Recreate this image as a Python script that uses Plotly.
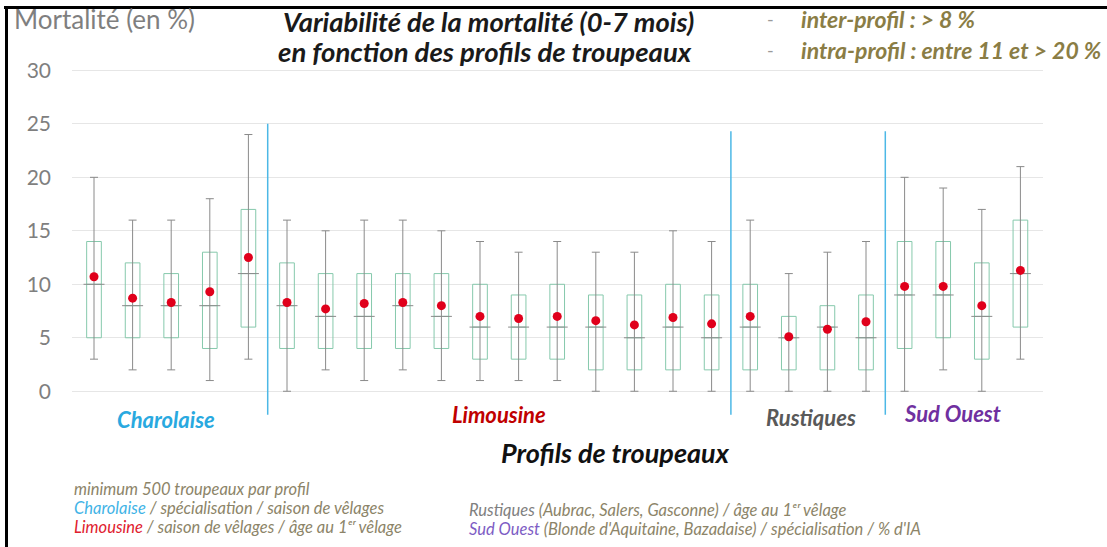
import plotly.graph_objects as go

# ---- data (values in %) ----
profiles = list(range(25))
groups = ["Charolaise"] * 5 + ["Limousine"] * 12 + ["Rustiques"] * 4 + ["Sud Ouest"] * 4
whisker_low = [3, 2, 2, 1, 3,
               0, 2, 1, 2, 1, 1, 1, 1, 0, 0, 0, 0,
               0, 0, 0, 0,
               0, 2, 0, 3]
q1 = [5, 5, 5, 4, 6,
      4, 4, 4, 4, 4, 3, 3, 3, 2, 2, 2, 2,
      2, 2, 2, 2,
      4, 5, 3, 6]
median = [10, 8, 8, 8, 11,
          8, 7, 7, 8, 7, 6, 6, 6, 6, 5, 6, 5,
          6, 5, 6, 5,
          9, 9, 7, 11]
q3 = [14, 12, 11, 13, 17,
      12, 11, 11, 11, 11, 10, 9, 10, 9, 9, 10, 9,
      10, 7, 8, 9,
      14, 14, 12, 16]
whisker_high = [20, 16, 16, 18, 24,
                16, 15, 16, 16, 15, 14, 13, 14, 13, 13, 15, 14,
                16, 11, 13, 14,
                20, 19, 17, 21]
mean = [10.7, 8.7, 8.3, 9.3, 12.5,
        8.3, 7.7, 8.2, 8.3, 8.0, 7.0, 6.8, 7.0, 6.6, 6.2, 6.9, 6.3,
        7.0, 5.1, 5.8, 6.5,
        9.8, 9.8, 8.0, 11.3]
y_ticks = [0, 5, 10, 15, 20, 25, 30]
separators = [4.5, 16.5, 20.5]
separator_tops = [25, 24.3, 24.3]

# ---- layout geometry ----
W, H = 1107, 547
L, R, T, B = 72, 64, 65, 129
PW, PH = W - L - R, H - T - B


def P(x, y):
    return (x - L) / PW, (H - B - y) / PH


FONT = "Lato"
OLIVE = "#8c8468"

fig = go.Figure()

fig.add_trace(go.Box(
    x=profiles, q1=q1, median=median, q3=q3,
    lowerfence=q1, upperfence=q3,
    width=0.38, whiskerwidth=0,
    line=dict(color="#86c9ac", width=1),
    fillcolor="rgba(0,0,0,0)",
    boxpoints=False, hoverinfo="skip", showlegend=False,
))

fig.add_trace(go.Scatter(
    x=profiles, y=median, mode="markers",
    marker=dict(size=0.1, color="rgba(0,0,0,0)"),
    error_y=dict(type="data", symmetric=False,
                 array=[h - m for h, m in zip(whisker_high, median)],
                 arrayminus=[m - l for m, l in zip(median, whisker_low)],
                 color="#8a8a8a", thickness=1, width=4),
    hoverinfo="skip", showlegend=False, cliponaxis=False,
))

fig.add_trace(go.Scatter(
    x=profiles, y=median, mode="markers",
    marker=dict(symbol="line-ew", size=15, line=dict(color="#8a8a8a", width=1)),
    hoverinfo="skip", showlegend=False,
))

fig.add_trace(go.Scatter(
    x=profiles, y=mean, mode="markers",
    marker=dict(size=9, color="#e0001b"),
    showlegend=False, cliponaxis=False,
))

shapes = []
for sx, top in zip(separators, separator_tops):
    shapes.append(dict(type="line", xref="x", yref="y", x0=sx, x1=sx, y0=-2.2, y1=top,
                       line=dict(color="#4db8e6", width=1.5)))
# frame (top & left)
x0p, y0p = P(4, 7.5)
x1p, _ = P(W + 5, 7.5)
shapes.append(dict(type="line", xref="paper", yref="paper", x0=x0p, x1=x1p, y0=y0p, y1=y0p,
                   line=dict(color="black", width=3)))
xl, yt = P(6.5, 6)
_, yb = P(6.5, H + 5)
shapes.append(dict(type="line", xref="paper", yref="paper", x0=xl, x1=xl, y0=yt, y1=yb,
                   line=dict(color="black", width=3)))

annotations = []


def ann(text, x, y, size, color, xanchor="left", bold=False, italic=False):
    xp, yp = P(x, y)
    t = text
    if bold:
        t = "<b>" + t + "</b>"
    if italic:
        t = "<i>" + t + "</i>"
    annotations.append(dict(text=t, x=xp, y=yp, xref="paper", yref="paper",
                            xanchor=xanchor, yanchor="middle", showarrow=False,
                            font=dict(family=FONT, size=size, color=color)))


ann("Mortalité (en %)", 12, 19, 26, "#7f7f7f")
ann("Variabilité de la mortalité (0-7 mois)", 281, 21, 27.3, "#1a1a1a", bold=True, italic=True)
ann("en fonction des profils de troupeaux", 276, 52, 27.5, "#1a1a1a", bold=True, italic=True)
ann("-", 765, 19, 18, "#9a9a9a")
ann("-", 765, 50, 18, "#9a9a9a")
ann("inter-profil : > 8 %", 799, 19, 23, "#8a7d45", bold=True, italic=True)
ann("intra-profil : entre 11 et > 20 %", 799, 50, 23, "#8a7d45", bold=True, italic=True)

ann("Charolaise", 166, 419, 22, "#29a9e0", xanchor="center", bold=True, italic=True)
ann("Limousine", 499, 414, 22, "#c00000", xanchor="center", bold=True, italic=True)
ann("Rustiques", 811, 417, 22, "#595959", xanchor="center", bold=True, italic=True)
ann("Sud Ouest", 952, 413, 22, "#7030a0", xanchor="center", bold=True, italic=True)
ann("Profils de troupeaux", 615, 452, 27, "#111111", xanchor="center", bold=True, italic=True)

ann("minimum 500 troupeaux par profil", 72, 489, 16.5, OLIVE, italic=True)
ann("<span style='color:#3fb3e6'>Charolaise</span> / spécialisation / saison de vêlages",
    72, 508, 16.5, OLIVE, italic=True)
ann("<span style='color:#e0202e'>Limousine</span> / saison de vêlages / âge au 1ᵉʳ vêlage",
    72, 527, 16.5, OLIVE, italic=True)
ann("<span style='color:#7f7f7f'>Rustiques</span> (Aubrac, Salers, Gasconne) / âge au 1ᵉʳ vêlage",
    467, 510, 16.5, OLIVE, italic=True)
ann("<span style='color:#7d5cc4'>Sud Ouest</span> (Blonde d'Aquitaine, Bazadaise) / spécialisation / % d'IA",
    467, 529, 16.5, OLIVE, italic=True)

fig.update_layout(
    width=W, height=H,
    margin=dict(l=L, r=R, t=T, b=B),
    paper_bgcolor="white", plot_bgcolor="white",
    showlegend=False,
    shapes=shapes, annotations=annotations,
    xaxis=dict(range=[-0.57, -0.57 + PW / 38.6], showticklabels=False, showgrid=False,
               zeroline=False, showline=False, ticks=""),
    yaxis=dict(range=[-2.5, 30.5], tickvals=y_ticks, showgrid=True, gridcolor="#e6e6e6",
               gridwidth=1, zeroline=False, showline=False, ticks="",
               tickfont=dict(family=FONT, size=21, color="#7f7f7f"),
               ticklabelstandoff=20),
)

fig.write_html("out.html", config={"displayModeBar": False},
               post_script="document.body.style.margin='0px';")
